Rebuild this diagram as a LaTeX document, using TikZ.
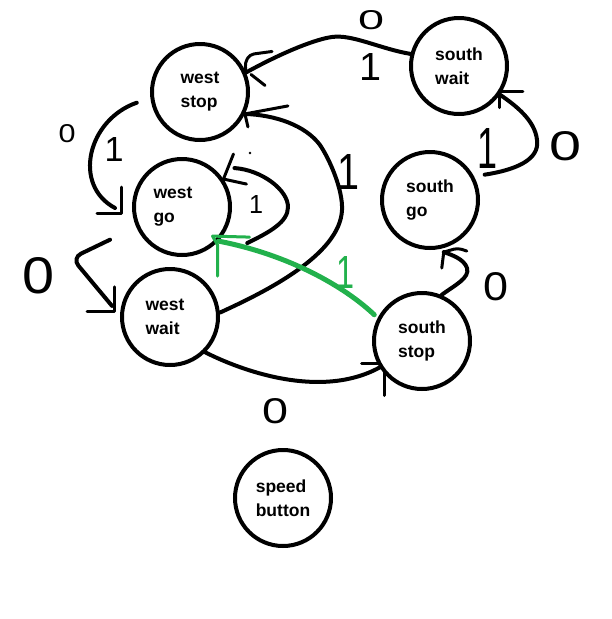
\documentclass[tikz,border=0pt]{standalone}
\usepackage{fontspec}
\setmainfont{Liberation Sans}
\usepackage{graphicx}
\definecolor{paintgreen}{RGB}{34,177,76}
% hand-written transition digit, stretched to a given width and height
\newcommand{\dg}[3]{\resizebox{#1pt}{#2pt}{#3}}
\begin{document}
\begin{tikzpicture}[x=1pt,y=-1pt,
  state/.style={circle,draw,line width=4pt,minimum size=96pt,inner sep=0pt,
    align=left,font=\fontsize{17.5}{24}\selectfont\bfseries},
  edge/.style={line width=4pt,line cap=round,line join=round},
  barb/.style={line width=3pt,line cap=round,line join=round},
  gedge/.style={edge,paintgreen,line width=5pt},
  gbarb/.style={barb,paintgreen},
  digit/.style={inner sep=0pt,font=\fontsize{20}{20}\selectfont},
  gdigit/.style={digit,text=paintgreen},
]
\useasboundingbox (0,0) rectangle (611,619);

% states
\node[state] (ws) at (200,92)  {west\\stop};
\node[state] (wg) at (182,207) {west\kern18pt\\go};
\node[state] (ww) at (170,317) {west\kern10pt\\wait};
\node[state] (sw) at (459,66)  {south\\wait};
\node[state] (sg) at (430,200) {south\\go};
\node[state] (ss) at (422,341) {south\\stop};
\node[state] (sb) at (283,498) {speed\\button};

% south wait -> west stop
\draw[edge] (sw.166) .. controls +(-30,-5) and +(20,-3) .. (332,37)
  .. controls +(-15,2) and +(40,-22) .. (ws.23);
\draw[barb,rounded corners=4pt] (ws.23) -- ++(-1,-10) -- ++(5,-8) -- ++(22,-3);
\draw[barb] (ws.23) ++(5,2) -- ++(14,11);
\node[digit] (l1a) at (371,20) {\dg{26}{19}{0}};
\node[digit] (l1b) at (370,67) {\dg{22}{27}{1}};

% west stop -> west go
\coordinate (e2) at ([xshift=-17pt,yshift=-1pt]wg.180);
\draw[edge] ([xshift=-14pt,yshift=-2pt]ws.190) .. controls +(-49,17) and +(-43,-23) .. (e2);
\draw[barb] (e2) ++(6,-21) -- ++(0,26) -- ++(-24,0);
\node[digit] (l2a) at (67,134) {\dg{17}{18}{0}};
\node[digit] (l2b) at (114,149) {\dg{19}{24}{1}};

% west go self loop
\draw[edge] ([xshift=22pt,yshift=-11pt]wg.-30) .. controls (270,232) and (288,222) .. (288,207)
  .. controls (288,190) and (262,170) .. ([xshift=11pt,yshift=11pt]wg.34);
\draw[barb] (wg.34) ++(10,-25) -- (wg.34) -- ++(23,5);
\fill (250,153) circle (1.3);
\node[digit] (l3) at (256,204) {\dg{14}{18}{1}};

% west go -> west wait
\coordinate (e4) at ([xshift=-11pt,yshift=-6pt]ww.160);
\draw[edge,rounded corners=10pt] ([xshift=-31pt,yshift=-4pt]wg.215) -- (72,258) -- (e4);
\draw[barb] (e4) ++(2,-19) -- ++(0,25) -- ++(-27,0);
\node[digit] (l4) at (39,276) {\dg{32}{36}{0}};

% west wait -> west stop
\draw[edge] (ww.5) .. controls (265,292) and (340,255) .. (342,210)
  .. controls (343,190) and (330,160) .. (320,145)
  .. controls (305,125) and (275,115) .. (ws.-26);
\draw[barb] (ws.-26) ++(43,-8) -- (ws.-26) -- ++(3,13);
\node[digit] (l5) at (348,172) {\dg{22}{35}{1}};

% west wait -> south stop
\draw[edge] (ww.-45) .. controls (240,370) and (320,400) .. (ss.212);
\draw[barb] (ss.212) ++(-18,-4) -- ++(18,0);
\draw[barb] (ss.212) ++(5,3) -- ++(0,25);
\node[digit] (l6) at (275,411) {\dg{26}{25}{0}};

% south stop -> south go
\coordinate (e7) at ([yshift=-4pt]sg.-74);
\draw[edge] (ss.67) .. controls (455,285) and (470,278) .. (467,268)
  .. controls (464,259) and (452,255) .. (e7);
\draw[barb] (e7) -- ++(-2,16);
\draw[barb,rounded corners=4pt] (e7) -- ++(14,-4) -- ++(9,3);
\node[digit] (l7) at (496,287) {\dg{25}{28}{0}};

% south go -> south wait
\draw[edge] ([xshift=9pt,yshift=5pt]sg.24) .. controls (515,170) and (540,160) .. (537,140)
  .. controls (535,120) and (515,105) .. (sw.-35);
\draw[barb] (sw.-35) ++(0,-3) -- ++(23,0);
\draw[barb] (sw.-35) -- ++(0,13);
\node[digit] (l8a) at (487,148) {\dg{20}{40}{1}};
\node[digit] (l8b) at (565,146) {\dg{32}{29}{0}};

% south stop -> west go (green)
\draw[gedge] ([xshift=-4pt,yshift=2pt]ss.151) .. controls (345,287) and (290,255) .. (wg.-43);
\draw[gbarb] (wg.-43) ++(-6,-5) -- ++(37,1);
\draw[gbarb] (wg.-43) ++(-6,-5) -- ++(5,9) -- ++(0,31);
\node[gdigit] (lg) at (345,272) {\dg{18}{32}{1}};
\end{tikzpicture}
\end{document}
